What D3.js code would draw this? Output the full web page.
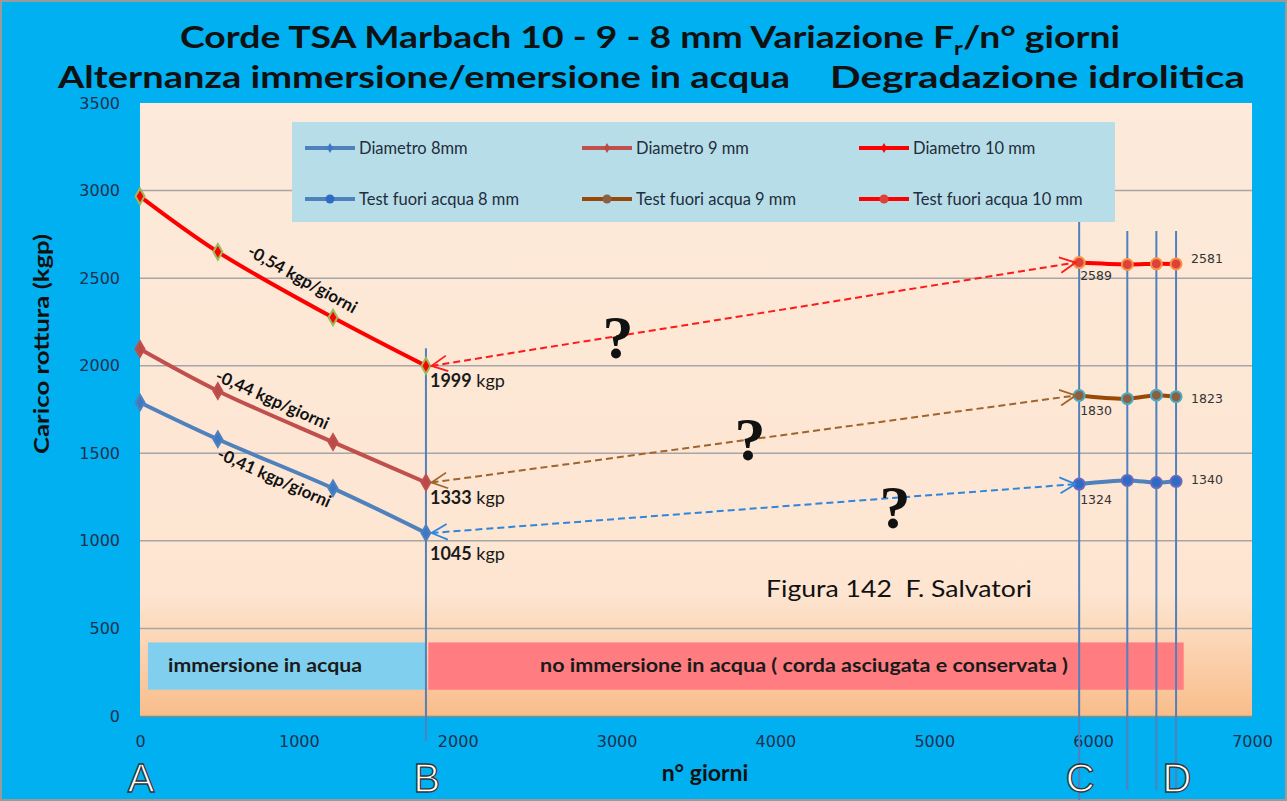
<!DOCTYPE html>
<html>
<head>
<meta charset="utf-8">
<script src="https://cdn.jsdelivr.net/npm/d3@7"></script>
<style>
  body { margin: 0; padding: 0; background: #fff; }
  svg { display: block; }
</style>
</head>
<body>
<script>
'use strict';

// ---- data ----
const dayTicks = [0, 1000, 2000, 3000, 4000, 5000, 6000, 7000];
const loadTicks = [0, 500, 1000, 1500, 2000, 2500, 3000, 3500];

// immersion phase (A -> B)
const immDays = [0, 490, 1215, 1800];
const dia8 = [1790, 1580, 1300, 1045];
const dia9 = [2095, 1856, 1564, 1333];
const dia10 = [2967, 2650, 2275, 1999];

// out of water tests (C -> D)
const testDays = [5912, 6215, 6398, 6522];
const test8 = [1324, 1345, 1333, 1340];
const test9 = [1830, 1812, 1832, 1823];
const test10 = [2589, 2578, 2582, 2581];

const slopeLabels = ['-0,41 kgp/giorni', '-0,44 kgp/giorni', '-0,54 kgp/giorni'];
const markerDays = [1800, 5912, 6215, 6398, 6522];
const letters = ['A', 'B', 'C', 'D'];
const letterDays = [0, 1800, 5912, 6522];

(function() {
  const W = 1287, H = 801;
  const svg = d3.select('body').append('svg')
    .attr('width', W)
    .attr('height', H);

  const x = d3.scaleLinear().domain([0, 7000]).range([140, 1252]);
  const y = d3.scaleLinear().domain([0, 3500]).range([716, 103]);

  const calibri = 'Lato, "Open Sans", sans-serif';
  const verdana = 'Verdana, "DejaVu Sans", sans-serif';

  // background + frame
  svg.append('rect').attr('width', W).attr('height', H).attr('fill', '#00B0F0');
  svg.append('rect').attr('x', 1).attr('y', 1).attr('width', W - 2).attr('height', H - 2)
    .attr('fill', 'none').attr('stroke', '#9a9a9a').attr('stroke-width', 2);

  // plot area with orange fade at the bottom
  const defs = svg.append('defs');
  const grad = defs.append('linearGradient').attr('id', 'plotBg')
    .attr('x1', 0).attr('y1', 0).attr('x2', 0).attr('y2', 1);
  grad.append('stop').attr('offset', '0%').attr('stop-color', '#FDEADA');
  grad.append('stop').attr('offset', '80%').attr('stop-color', '#FDE5D1');
  grad.append('stop').attr('offset', '100%').attr('stop-color', '#F9BD8A');
  svg.append('rect')
    .attr('x', x(0)).attr('y', y(3500))
    .attr('width', x(7000) - x(0)).attr('height', y(0) - y(3500))
    .attr('fill', 'url(#plotBg)');

  // grid lines
  svg.append('g').selectAll('line')
    .data(loadTicks.filter(d => d > 0 && d < 3500))
    .enter().append('line')
    .attr('x1', x(0)).attr('x2', x(7000))
    .attr('y1', d => y(d)).attr('y2', d => y(d))
    .attr('stroke', '#a6a6a6').attr('stroke-width', 1.5);

  // axes
  const yAxis = svg.append('g')
    .attr('transform', 'translate(' + x(0) + ',0)')
    .call(d3.axisLeft(y).tickValues(loadTicks).tickFormat(d3.format('d')).tickSize(0).tickPadding(20));
  yAxis.select('.domain').remove();
  yAxis.selectAll('text')
    .style('font-family', verdana)
    .style('font-size', '16px').attr('fill', '#1f3050');

  const xAxis = svg.append('g')
    .attr('transform', 'translate(0,' + y(0) + ')')
    .call(d3.axisBottom(x).tickValues(dayTicks).tickFormat(d3.format('d')).tickSize(0).tickPadding(20));
  xAxis.select('.domain').attr('stroke', '#8c8c8c').attr('stroke-width', 1.5);
  xAxis.selectAll('text')
    .style('font-family', verdana)
    .style('font-size', '16px').attr('fill', '#1f3050');

  // phase bands
  svg.append('rect')
    .attr('x', x(50)).attr('y', y(420))
    .attr('width', x(1800) - x(50)).attr('height', y(150) - y(420))
    .attr('fill', '#80CFEE');
  svg.append('rect')
    .attr('x', x(1815)).attr('y', y(420))
    .attr('width', x(6570) - x(1815)).attr('height', y(150) - y(420))
    .attr('fill', '#FF7C80');
  svg.append('text')
    .attr('x', 168).attr('y', y(285) + 6)
    .attr('textLength', 194).attr('lengthAdjust', 'spacingAndGlyphs')
    .style('font-family', calibri).style('font-size', '19px').style('font-weight', 'bold')
    .attr('fill', '#1a1a1a')
    .text('immersione in acqua');
  svg.append('text')
    .attr('x', 540).attr('y', y(285) + 6)
    .attr('textLength', 528).attr('lengthAdjust', 'spacingAndGlyphs')
    .style('font-family', calibri).style('font-size', '19px').style('font-weight', 'bold')
    .attr('fill', '#1a1a1a')
    .text('no immersione in acqua ( corda asciugata e conservata )');

  // vertical marker lines
  svg.append('g').selectAll('line')
    .data(markerDays)
    .enter().append('line')
    .attr('x1', d => x(d)).attr('x2', d => x(d))
    .attr('y1', (d, i) => i === 0 ? y(2100) : (i === 1 ? 222 : 231))
    .attr('y2', (d, i) => i === 0 ? 741 : (i === 1 ? 800 : 790))
    .attr('stroke', '#4F81BD').attr('stroke-width', 2);

  // legend box
  svg.append('rect')
    .attr('x', 292).attr('y', 122).attr('width', 823).attr('height', 100)
    .attr('fill', '#B7DEE8');

  const series = [
    { name: 'Diametro 8mm', days: immDays, vals: dia8, color: '#4F81BD', mark: 'diamond', mstroke: '#4F81BD', mfill: '#3C78C8' },
    { name: 'Diametro 9 mm', days: immDays, vals: dia9, color: '#C0504D', mark: 'diamond', mstroke: '#C0504D', mfill: '#B84A48' },
    { name: 'Diametro 10 mm', days: immDays, vals: dia10, color: '#FF0000', mark: 'diamond', mstroke: '#9BBB59', mfill: '#FF0000' },
    { name: 'Test fuori acqua 8 mm', days: testDays, vals: test8, color: '#4F81BD', mark: 'circle', mstroke: '#6A6ABD', mfill: '#2E6BC4' },
    { name: 'Test fuori acqua 9 mm', days: testDays, vals: test9, color: '#984807', mark: 'circle', mstroke: '#4BACC6', mfill: '#8B6040' },
    { name: 'Test fuori acqua 10 mm', days: testDays, vals: test10, color: '#FF0000', mark: 'circle', mstroke: '#F79646', mfill: '#E0403A' }
  ];

  const diamond = d3.symbol().type(d3.symbolDiamond).size(70);

  function drawMarker(g, s, cx, cy) {
    if (s.mark === 'diamond') {
      g.append('path').attr('d', diamond)
        .attr('transform', 'translate(' + cx + ',' + cy + ')')
        .attr('fill', s.mfill).attr('stroke', s.mstroke).attr('stroke-width', 2);
    } else {
      g.append('circle').attr('cx', cx).attr('cy', cy).attr('r', 5.5)
        .attr('fill', s.mfill).attr('stroke', s.mstroke).attr('stroke-width', 2);
    }
  }

  const line = d3.line()
    .x(d => x(d[0]))
    .y(d => y(d[1]))
    .curve(d3.curveCatmullRom.alpha(0.5));

  series.forEach(s => {
    const pts = s.days.map((d, i) => [d, s.vals[i]]);
    svg.append('path').datum(pts)
      .attr('fill', 'none').attr('stroke', s.color)
      .attr('stroke-width', 4).attr('stroke-linejoin', 'round')
      .attr('d', line);
    const g = svg.append('g');
    pts.forEach(p => drawMarker(g, s, x(p[0]), y(p[1])));
  });

  // legend entries
  series.forEach((s, i) => {
    const col = i % 3, row = Math.floor(i / 3);
    const lx = 305 + col * 277, ly = 148 + row * 51;
    const g = svg.append('g');
    g.append('line').attr('x1', lx).attr('x2', lx + 50).attr('y1', ly).attr('y2', ly)
      .attr('stroke', s.color).attr('stroke-width', 4);
    if (s.mark === 'diamond') {
      g.append('path').attr('d', d3.symbol().type(d3.symbolDiamond).size(30))
        .attr('transform', 'translate(' + (lx + 25) + ',' + ly + ')')
        .attr('fill', s.mfill);
    } else {
      g.append('circle').attr('cx', lx + 25).attr('cy', ly).attr('r', 4.5).attr('fill', s.mfill);
    }
    g.append('text').attr('x', lx + 54).attr('y', ly + 6)
      .style('font-family', calibri).style('font-size', '16.5px')
      .attr('fill', '#1f2d3d')
      .text(s.name);
  });

  // dashed arrows between the two phases
  const arrowColors = ['#2E86DE', '#A0642D', '#FF1A1A'];
  const fromVals = [dia8[3], dia9[3], dia10[3]];
  const toVals = [test8[0], test9[0], test10[0]];
  arrowColors.forEach((c, i) => {
    const mk = defs.append('marker')
      .attr('id', 'arr' + i)
      .attr('viewBox', '0 0 16 16')
      .attr('refX', 15).attr('refY', 8)
      .attr('markerWidth', 18).attr('markerHeight', 18)
      .attr('markerUnits', 'userSpaceOnUse')
      .attr('orient', 'auto-start-reverse');
    mk.append('path').attr('d', 'M1,1 L15,8 L1,15')
      .attr('fill', 'none').attr('stroke', c).attr('stroke-width', 1.6);
    svg.append('line')
      .attr('x1', x(1835)).attr('y1', y(fromVals[i]))
      .attr('x2', x(5890)).attr('y2', y(toVals[i]))
      .attr('stroke', c).attr('stroke-width', 2)
      .attr('stroke-dasharray', '7,4')
      .attr('marker-start', 'url(#arr' + i + ')')
      .attr('marker-end', 'url(#arr' + i + ')');
  });

  // question marks
  const qPos = [[4753, 1073], [3840, 1462], [3009, 2044]];
  qPos.forEach(q => {
    svg.append('text')
      .attr('x', x(q[0])).attr('y', y(q[1]))
      .attr('text-anchor', 'middle')
      .style('font-family', '"Liberation Serif", "DejaVu Serif", serif')
      .style('font-size', '62px').style('font-weight', 'bold')
      .attr('fill', '#111')
      .text('?');
  });

  // values at end of immersion
  const endVals = [dia10[3], dia9[3], dia8[3]];
  const endOff = [21, 21, 27];
  endVals.forEach((v, i) => {
    const t = svg.append('text')
      .attr('x', x(1800) + 4).attr('y', y(v) + endOff[i])
      .style('font-family', calibri).style('font-size', '18px').attr('fill', '#1a1a1a');
    t.append('tspan').style('font-weight', 'bold').text(v);
    t.append('tspan').text(' kgp');
  });

  // values of the out of water tests
  const firstVals = [test10[0], test9[0], test8[0]];
  const firstOff = [17, 20, 20];
  const lastVals = [test10[3], test9[3], test8[3]];
  const lastOff = [-1, 6, 3];
  firstVals.forEach((v, i) => {
    svg.append('text')
      .attr('x', x(testDays[0]) + 1).attr('y', y(v) + firstOff[i])
      .style('font-family', verdana).style('font-size', '12.5px')
      .attr('fill', '#333').text(v);
  });
  lastVals.forEach((v, i) => {
    svg.append('text')
      .attr('x', x(testDays[3]) + 15).attr('y', y(v) + lastOff[i])
      .style('font-family', verdana).style('font-size', '12.5px')
      .attr('fill', '#333').text(v);
  });

  // slope labels, rotated along the lines
  const slopePos = [[830, 1330, 24], [818, 1776, 24], [1005, 2465, 29]];
  slopeLabels.forEach((s, i) => {
    const p = slopePos[i];
    svg.append('text')
      .attr('transform', 'translate(' + x(p[0]) + ',' + y(p[1]) + ') rotate(' + p[2] + ')')
      .attr('text-anchor', 'middle')
      .style('font-family', calibri).style('font-size', '17px').style('font-weight', 'bold')
      .attr('fill', '#111').text(s);
  });

  // figure credit
  svg.append('text')
    .attr('x', 766).attr('y', 597)
    .attr('textLength', 266).attr('lengthAdjust', 'spacingAndGlyphs')
    .style('white-space', 'pre')
    .style('font-family', calibri).style('font-size', '24px')
    .attr('fill', '#111').text('Figura 142  F. Salvatori');

  // titles
  const t1 = svg.append('text')
    .attr('x', 180).attr('y', 48)
    .attr('textLength', 940).attr('lengthAdjust', 'spacingAndGlyphs')
    .style('font-family', calibri).style('font-size', '30px').style('font-weight', 'bold')
    .attr('fill', '#111');
  t1.append('tspan').text('Corde TSA Marbach 10 - 9 - 8 mm Variazione F');
  t1.append('tspan').attr('dy', 7).style('font-size', '19px').text('r');
  t1.append('tspan').attr('dy', -7).text('/n° giorni');

  svg.append('text')
    .attr('x', 58).attr('y', 88)
    .attr('textLength', 732).attr('lengthAdjust', 'spacingAndGlyphs')
    .style('font-family', calibri).style('font-size', '30px').style('font-weight', 'bold')
    .attr('fill', '#111').text('Alternanza immersione/emersione in acqua');
  svg.append('text')
    .attr('x', 830).attr('y', 88)
    .attr('textLength', 415).attr('lengthAdjust', 'spacingAndGlyphs')
    .style('font-family', calibri).style('font-size', '30px').style('font-weight', 'bold')
    .attr('fill', '#111').text('Degradazione idrolitica');

  // axis titles
  svg.append('text')
    .attr('transform', 'translate(49,344) rotate(-90)')
    .attr('text-anchor', 'middle')
    .attr('textLength', 220).attr('lengthAdjust', 'spacingAndGlyphs')
    .style('font-family', calibri).style('font-size', '21px').style('font-weight', 'bold')
    .attr('fill', '#111').text('Carico rottura (kgp)');
  svg.append('text')
    .attr('x', 705).attr('y', 781)
    .attr('text-anchor', 'middle')
    .style('font-family', calibri).style('font-size', '23px').style('font-weight', 'bold')
    .attr('fill', '#111').text('n° giorni');

  // phase letters
  svg.append('g').selectAll('text')
    .data(letters)
    .enter().append('text')
    .attr('x', (d, i) => x(letterDays[i]) + 1).attr('y', 792)
    .attr('text-anchor', 'middle')
    .style('font-family', '"Liberation Sans", Arial, sans-serif').style('font-size', '40px')
    .attr('fill', '#ffffff').attr('stroke', '#333').attr('stroke-width', 1.3)
    .text(d => d);
})();
</script>
</body>
</html>
